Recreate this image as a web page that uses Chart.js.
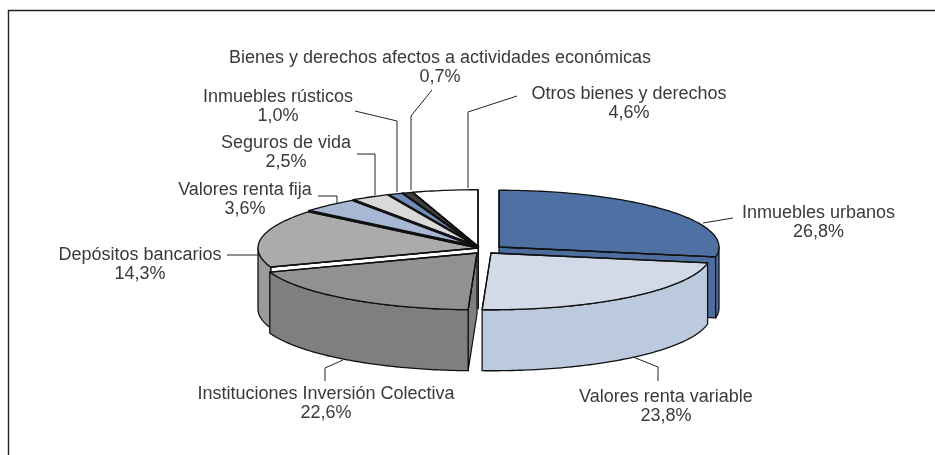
<!DOCTYPE html>
<html lang="es">
<head>
<meta charset="utf-8">
<style>
html,body{margin:0;padding:0;background:#fff;overflow:hidden}
#wrap{position:relative;width:935px;height:455px}
canvas{display:block}
</style>
<script src="https://cdn.jsdelivr.net/npm/chart.js@4"></script>
</head>
<body>
<div id="wrap"><canvas id="c" width="935" height="455"></canvas></div>
<script>
// ---- data ----
const categories = ["Inmuebles urbanos","Valores renta variable","Instituciones Inversión Colectiva","Depósitos bancarios","Valores renta fija","Seguros de vida","Inmuebles rústicos","Bienes y derechos afectos a actividades económicas","Otros bienes y derechos"];
const shares = [26.8,23.8,22.6,14.3,3.6,2.5,1.0,0.7,4.6];

// ---- styles ----
const topColors  = ["#4f70a3","#d3dae7","#919191","#ababab","#a6b8d3","#d9d9d9","#6f8db9","#404040","#ffffff"];
const sideColors = ["#4d6d9f","#bccadd","#7f7f7f","#9a9a9a","#93a6c4","#c4c4c4","#5f7da8","#303030","#e8e8e8"];
const wallColors = ["#4d6d9f","#bccadd","#7f7f7f","#ffffff","#111111","#c4c4c4","#5f7da8","#303030","#e8e8e8"];
const radialWidths = [1.3,1.3,1.3,1.6,2.6,2.4,2.2,2.0,1.3];
const explodeX = [21,13,-1,0,0,0,0,0,0];
const explodeY = [0.5,6.5,6.5,1.5,0.5,0,0,0,0];
const drawOrder = [8,7,6,5,4,3,0,2,1];
const tilt = 0.258, depth = 61, ink = "#111";

// ---- label layout: centre x, first line y, leader polyline ----
const labelLayout = [
  {x:818.5,y:213,leader:[[703,223],[733,218]]},
  {x:666,y:397,leader:[[633,357],[658,367],[658,381]]},
  {x:326,y:394,leader:[[343,360],[325,368],[325,381]]},
  {x:140,y:255,leader:[[227,255],[258,255]]},
  {x:245,y:190,leader:[[318,196],[337,196],[337,203]]},
  {x:286,y:143,leader:[[357,154],[375,154],[375,195]]},
  {x:278,y:97, leader:[[355,111],[397,121],[397,192]]},
  {x:440,y:58, leader:[[432,90],[411,116],[411,190]]},
  {x:629,y:94, leader:[[517,96],[468,112],[468,188]]}
];
const labelFont = '18px "Liberation Sans", Arial, sans-serif';
const lineGap = 19.5;

// The reference is a perspective view: a slice's drawn angle drifts from its true angle.
function view(t){
  return t + (6.6*Math.PI/180)*Math.sin(t) - (2.5*Math.PI/180)*(1-Math.cos(2*t)) - (2*Math.PI/180)*Math.sin(3*t);
}

const pie3d = {
  id:'pie3d',
  beforeDatasetDraw(chart){
    const ctx = chart.ctx, arcs = chart.getDatasetMeta(0).data;
    ctx.save();
    ctx.lineJoin = 'round';
    for(const i of drawOrder){
      const p = arcs[i].getProps(['x','y','startAngle','endAngle','outerRadius'],true);
      const ax = p.x + explodeX[i], ay = p.y + explodeY[i];
      const rx = p.outerRadius, ry = rx*tilt;
      const t0 = p.startAngle + Math.PI/2, t1 = p.endAngle + Math.PI/2;
      const pt = t => { const v = view(t); return [ax + rx*Math.sin(v), ay - ry*Math.cos(v)]; };
      const n = Math.max(2, Math.ceil((t1-t0)*180/Math.PI));
      const rim = [];
      for(let k=0;k<=n;k++) rim.push(pt(t0+(t1-t0)*k/n));
      const poly = (pts,fill,lw) => {
        ctx.beginPath();
        pts.forEach((q,k)=> k?ctx.lineTo(q[0],q[1]):ctx.moveTo(q[0],q[1]));
        ctx.closePath();
        if(fill){ctx.fillStyle=fill;ctx.fill();}
        ctx.lineWidth=lw;ctx.strokeStyle=ink;ctx.stroke();
      };
      const down = q => [q[0],q[1]+depth];
      const A = [ax,ay], S = rim[0], E = rim[rim.length-1];
      // radial walls, only those facing the viewer
      if(Math.sin(view(t0)) < 0) poly([A,S,down(S),down(A)],wallColors[i],1.2);
      if(Math.sin(view(t1)) > 0) poly([A,E,down(E),down(A)],wallColors[i],1.2);
      // outer wall, only the part facing the viewer
      const front = [];
      for(let k=0;k<=n;k++){
        const v = view(t0+(t1-t0)*k/n);
        if(Math.cos(v) <= 0.0) front.push(rim[k]);
      }
      if(front.length>1) poly(front.concat(front.slice().reverse().map(down)),sideColors[i],1.3);
      // top face
      poly([A].concat(rim),topColors[i],1.3);
      // heavier radial edges
      ctx.beginPath();ctx.moveTo(S[0],S[1]);ctx.lineTo(ax,ay);ctx.lineTo(E[0],E[1]);
      ctx.lineWidth=radialWidths[i];ctx.strokeStyle=ink;ctx.stroke();
    }
    ctx.restore();
    return false;
  },
  afterDraw(chart){
    const ctx = chart.ctx;
    ctx.save();
    // frame: top and left only
    ctx.strokeStyle="#222";ctx.lineWidth=1.4;
    ctx.beginPath();ctx.moveTo(935,10.5);ctx.lineTo(8.5,10.5);ctx.lineTo(8.5,455);ctx.stroke();
    // leaders and labels
    ctx.strokeStyle="#222";ctx.lineWidth=1;
    ctx.font=labelFont;ctx.fillStyle="#3a3a3a";ctx.textAlign="center";ctx.textBaseline="middle";
    categories.forEach((name,i)=>{
      const L = labelLayout[i];
      ctx.beginPath();
      L.leader.forEach((q,k)=> k?ctx.lineTo(q[0],q[1]):ctx.moveTo(q[0],q[1]));
      ctx.stroke();
      ctx.fillText(name,L.x,L.y);
      ctx.fillText(shares[i].toFixed(1).replace('.',',')+'%',L.x,L.y+lineGap);
    });
    ctx.restore();
  }
};

new Chart(document.getElementById('c'),{
  type:'pie',
  data:{labels:categories,datasets:[{data:shares,backgroundColor:topColors,borderWidth:0}]},
  options:{
    responsive:false,animation:false,
    radius:220,
    layout:{padding:{left:21,top:38,right:0,bottom:0}},
    plugins:{legend:{display:false},tooltip:{enabled:false},title:{display:false}}
  },
  plugins:[pie3d]
});
</script>
</body>
</html>
